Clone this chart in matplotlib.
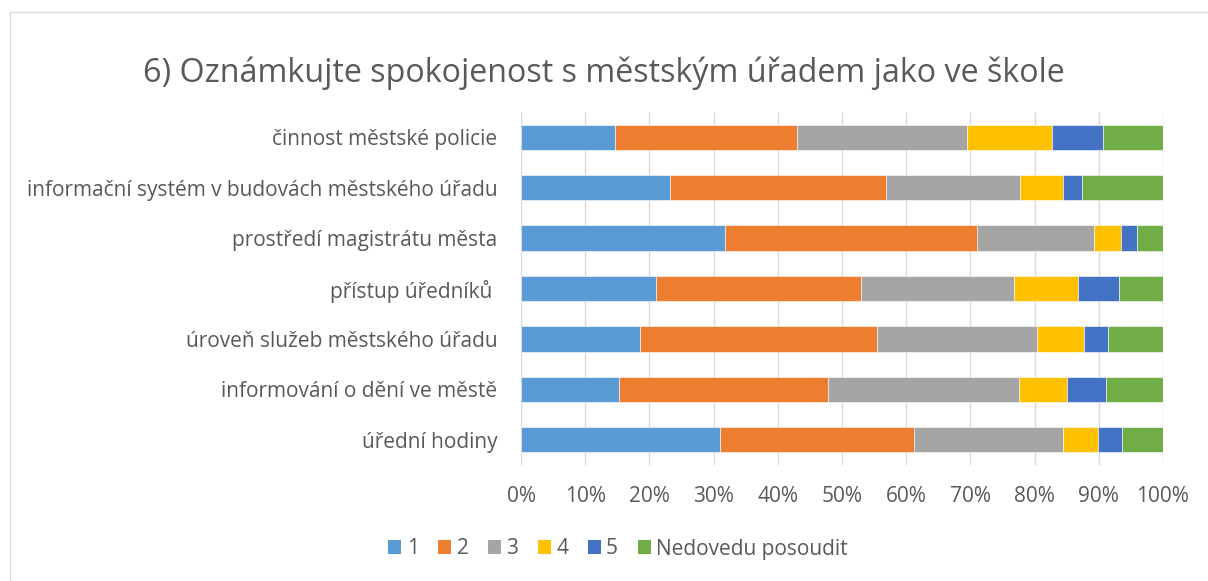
import matplotlib
matplotlib.use("Agg")
import matplotlib.pyplot as plt
from matplotlib.patches import Rectangle, Patch
import numpy as np

plt.rcParams['font.family'] = ['Open Sans', 'DejaVu Sans']

categories = [
    "činnost městské policie",
    "informační systém v budovách městského úřadu",
    "prostředí magistrátu města",
    "přístup úředníků ",
    "úroveň služeb městského úřadu",
    "informování o dění ve městě",
    "úřední hodiny",
]
series_names = ["1", "2", "3", "4", "5", "Nedovedu posoudit"]
s1 = [14.7, 23.2, 31.7, 21.1, 18.6, 15.3, 31.0]
s2 = [28.3, 33.7, 39.4, 31.9, 36.9, 32.5, 30.2]
s3 = [26.4, 20.9, 18.1, 23.8, 24.9, 29.7, 23.3]
s4 = [13.3, 6.6, 4.2, 9.9, 7.3, 7.5, 5.3]
s5 = [7.9, 3.0, 2.5, 6.5, 3.7, 6.1, 3.8]
s6 = [9.4, 12.6, 4.1, 6.8, 8.6, 8.9, 6.4]
xticks = [0, 10, 20, 30, 40, 50, 60, 70, 80, 90, 100]
xticklabels = ["0%", "10%", "20%", "30%", "40%", "50%", "60%", "70%", "80%", "90%", "100%"]
title = "6) Oznámkujte spokojenost s městským úřadem jako ve škole"

colors = ["#5B9BD5", "#ED7D31", "#A5A5A5", "#FFC000", "#4472C4", "#70AD47"]
text_color = "#595959"

W, H = 1208, 581
fig = plt.figure(figsize=(W / 100, H / 100), dpi=100)

# chart border
fig.patches.append(Rectangle((10 / W, -0.1), 1.2, 1 - 12 / H + 0.1, transform=fig.transFigure,
                             fill=False, edgecolor="#D9D9D9", linewidth=1, zorder=0))

ax = fig.add_axes([521 / W, 1 - 465 / H, (1163 - 521) / W, (465 - 112) / H])

data = [s1, s2, s3, s4, s5, s6]
y = np.arange(len(categories))
left = np.zeros(len(categories))
for vals, c, name in zip(data, colors, series_names):
    vals = np.array(vals, dtype=float)
    ax.barh(y, vals, left=left, height=0.5, color=c, edgecolor="white", linewidth=0.4,
            label=name, zorder=3)
    left = left + vals

ax.set_xlim(0, 100)
ax.set_ylim(len(categories) - 0.5, -0.5)
ax.set_yticks(y)
ax.set_yticklabels(categories, fontsize=15, color=text_color)
ax.set_xticks(xticks)
ax.set_xticklabels(xticklabels, fontsize=15, color=text_color)
ax.tick_params(axis="both", length=0)
ax.tick_params(axis="y", pad=17)
ax.tick_params(axis="x", pad=15)
ax.grid(axis="x", color="#D9D9D9", linewidth=1, zorder=0)
for s in ax.spines.values():
    s.set_visible(False)

fig.text(0.5, 1 - 73 / H, title, ha="center", va="center", fontsize=23.2, color=text_color)

handles = [Patch(facecolor=c, edgecolor="none") for c in colors]
fig.legend(handles, series_names, loc="center", bbox_to_anchor=(618 / W, 1 - 549 / H), ncol=6,
           frameon=False, fontsize=15, handlelength=0.62, handleheight=0.62,
           handletextpad=0.25, columnspacing=0.95, labelcolor=text_color)

fig.savefig("out.png", dpi=100)
